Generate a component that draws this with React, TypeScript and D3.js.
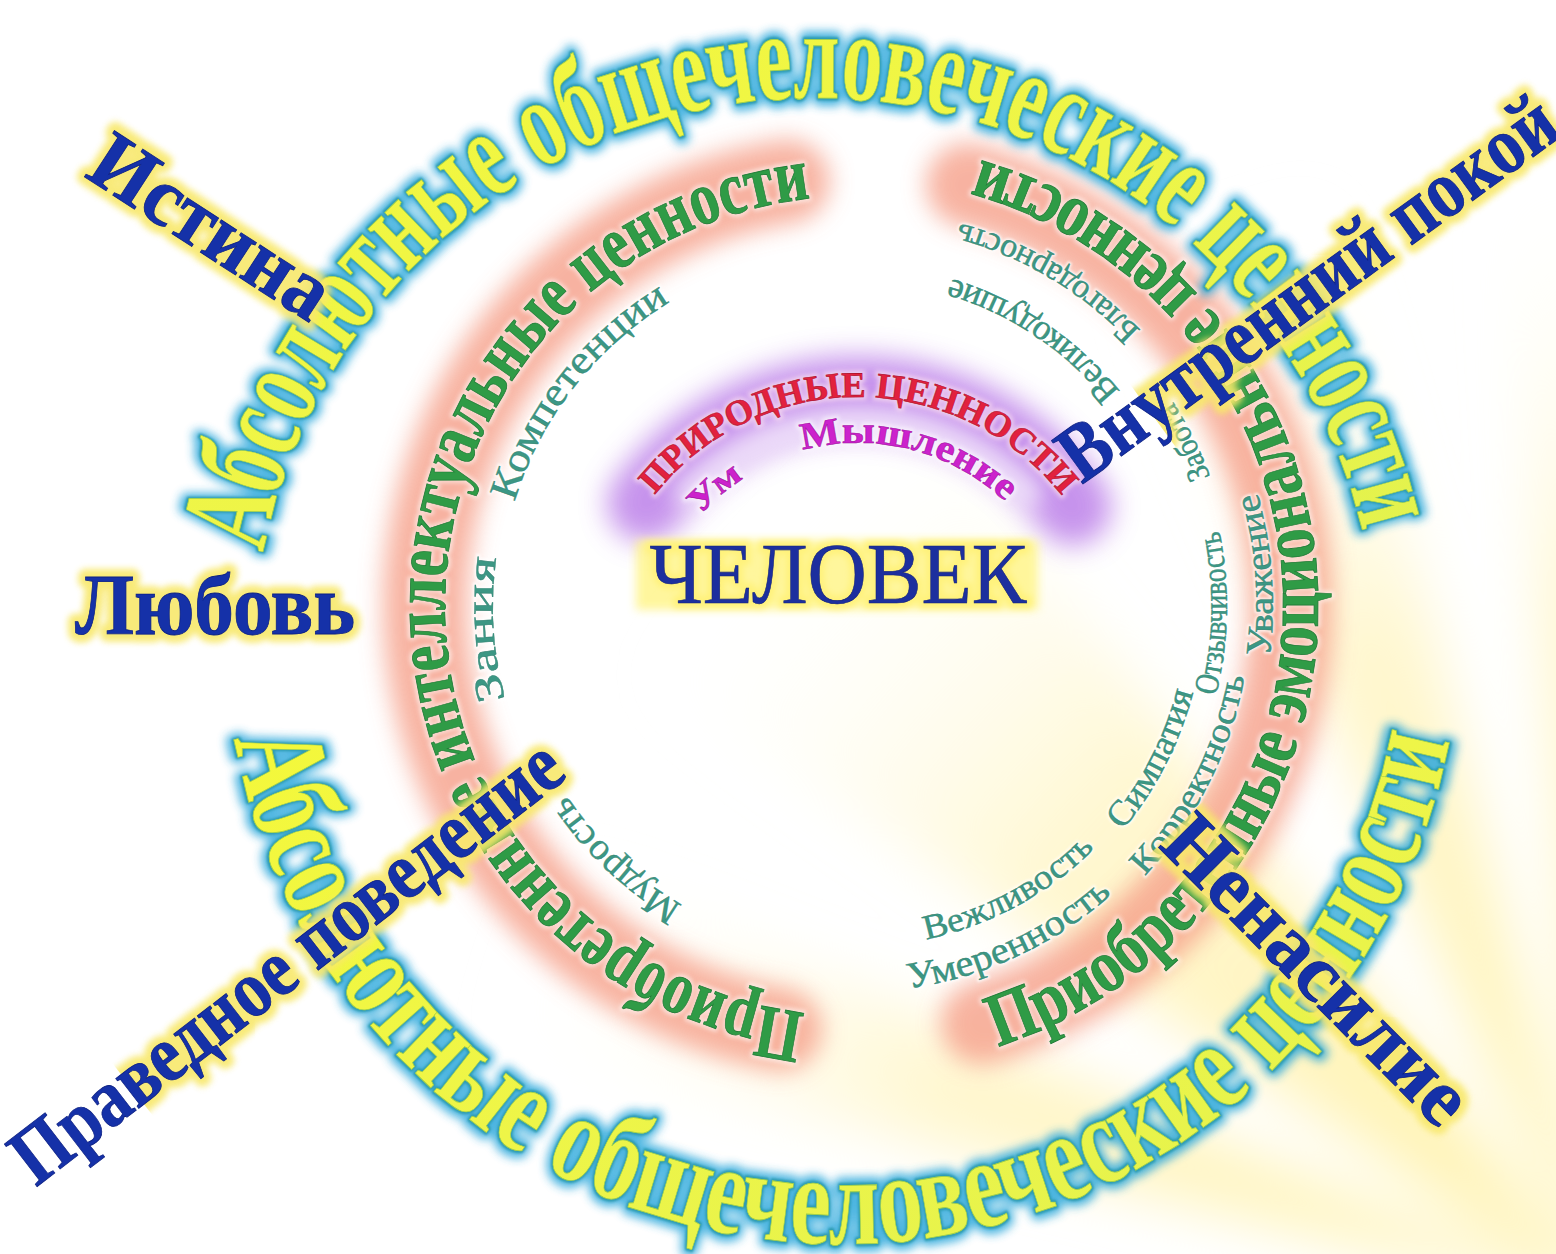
import React from 'react';
import * as d3 from 'd3';

// ---------------- data ----------------
const outerTitle = 'Абсолютные общечеловеческие ценности';
const acquiredTitles = ['Приобретенные интеллектуальные ценности', 'Приобретенные эмоциональные ценности'];
const naturalTitle = 'ПРИРОДНЫЕ ЦЕННОСТИ';
const naturalValues = ['Ум', 'Мышление'];
const intellectualValues = ['Компетенции', 'Зания', 'Мудрость'];
const emotionalValues = ['Благодарность', 'Великодушие', 'Забота', 'Отзывчивость', 'Уважение', 'Симпатия', 'Корректность', 'Вежливость', 'Умеренность'];
const absoluteValues = ['Истина', 'Внутренний покой', 'Любовь', 'Праведное поведение', 'Ненасилие'];
const centerLabel = 'ЧЕЛОВЕК';

// ---------------- layout ----------------
const W = 1556;
const H = 1254;
const SERIF = "'Liberation Serif', 'Times New Roman', serif";

type Arc = { cx: number; cy: number; r: number; a0: number; a1: number };

const outerArcs: Arc[] = [
  { cx: 815, cy: 660, r: 562, a0: 191, a1: 347 },
  { cx: 842, cy: 626, r: 618, a0: 169.5, a1: 10.5 },
];
const ringC = { cx: 855, cy: 606 };
const acquiredArcs: Arc[] = [
  { ...ringC, r: 410, a0: 97, a1: 264 },
  { ...ringC, r: 463, a0: 72, a1: -74.5 },
];
const bandArcs: Arc[] = [
  { ...ringC, r: 430, a0: 100, a1: 261 },
  { ...ringC, r: 436, a0: 73, a1: -75 },
];
const intellectualLayout = [
  { r: 356, a0: 197, a1: 239, size: 40 },
  { r: 362, a0: 165, a1: 188, size: 40 },
  { r: 345, a0: 120, a1: 147, size: 38 },
];
const emotionalLayout = [
  { r: 397, a0: -44, a1: -75, size: 34 },
  { r: 341, a0: -39, a1: -74, size: 36 },
  { r: 378, a0: -20, a1: -33, size: 32 },
  { r: 372, a0: 14, a1: -12, size: 34 },
  { r: 418, a0: 7, a1: -16, size: 36 },
  { r: 349, a0: 40, a1: 14, size: 36 },
  { r: 396, a0: 43, a1: 10, size: 35 },
  { r: 341, a0: 78, a1: 45, size: 35 },
  { r: 386, a0: 82, a1: 48, size: 37 },
];
const natC = { cx: 858, cy: 657 };
const naturalArc: Arc = { ...natC, r: 260, a0: 218.6, a1: 322 };
const naturalBand: Arc = { ...natC, r: 262, a0: 216, a1: 325 };
const naturalValueLayout = [
  { r: 212, a0: 222, a1: 238, size: 34 },
  { r: 214, a0: 255, a1: 314, size: 38 },
];
const absoluteLayout = [
  { x: 208, y: 232, rot: 33, size: 84, len: 270 },
  { x: 1311, y: 293, rot: -36, size: 82, len: 596 },
  { x: 215, y: 612, rot: 0, size: 86, len: 280 },
  { x: 290, y: 966, rot: -37.6, size: 82, len: 673 },
  { x: 1313, y: 974, rot: 45.2, size: 82, len: 400 },
];
const rayOrigin = { x: 1600, y: 1300 };
const rays = [
  [193, 203],
  [213, 233],
  [245, 256],
  [265, 272],
];

// ---------------- helpers ----------------
const toRad = (d: number) => (d * Math.PI) / 180;
function arcD(a: Arc) {
  const p = d3.path();
  p.arc(a.cx, a.cy, a.r, toRad(a.a0), toRad(a.a1), a.a1 < a.a0);
  return p.toString();
}
const arcLen = (a: Arc) => toRad(Math.abs(a.a1 - a.a0)) * a.r;

type Layer = Record<string, any>;

function CurvedText({ id, arc, text, size, weight = 'bold', layers }: { id: string; arc: Arc; text: string; size: number; weight?: string; layers: Layer[] }) {
  const len = arcLen(arc) - 2;
  return (
    <g>
      <path id={id} d={arcD(arc)} fill="none" stroke="none" />
      {layers.map((l, i) => (
        <text key={i} fontFamily={SERIF} fontSize={size} fontWeight={weight} {...l}>
          <textPath href={`#${id}`} textLength={len} lengthAdjust="spacingAndGlyphs">
            {text}
          </textPath>
        </text>
      ))}
    </g>
  );
}

const outerLayers: Layer[] = [
  { fill: '#2fa9dc', stroke: '#2fa9dc', strokeWidth: 16, strokeLinejoin: 'round', filter: 'url(#blur5)', opacity: 0.85 },
  { fill: 'none', stroke: '#2e9bb0', strokeWidth: 5, strokeLinejoin: 'round', filter: 'url(#blur1)' },
  { fill: 'url(#yellowGrad)', stroke: '#9fcf4a', strokeWidth: 0.8 },
];
const greenLayers: Layer[] = [
  { fill: 'none', stroke: '#ffffff', strokeWidth: 6, strokeLinejoin: 'round', opacity: 0.6, filter: 'url(#blur2)' },
  { fill: '#2f9b46', stroke: '#1f7a35', strokeWidth: 0.8 },
];
const tealLayers: Layer[] = [
  { fill: 'none', stroke: '#ffffff', strokeWidth: 4, opacity: 0.7, filter: 'url(#blur1)' },
  { fill: '#3c9784', stroke: '#2f7f6e', strokeWidth: 0.4 },
];
const redLayers: Layer[] = [
  { fill: 'none', stroke: '#fbe0f0', strokeWidth: 6, opacity: 0.7, filter: 'url(#blur2)' },
  { fill: '#e2213e', stroke: '#b0142e', strokeWidth: 0.6 },
];
const magentaLayers: Layer[] = [
  { fill: 'none', stroke: '#ffffff', strokeWidth: 5, opacity: 0.6, filter: 'url(#blur2)' },
  { fill: '#cc22cc', stroke: '#9a109a', strokeWidth: 0.5 },
];

export default function App() {
  return (
    <svg width={W} height={H} viewBox={`0 0 ${W} ${H}`} style={{ position: 'absolute', left: 0, top: 0, background: '#ffffff' }}>
      <defs>
        {[1, 2, 3, 5, 10, 12, 14, 28].map((s) => (
          <filter key={s} id={`blur${s}`} filterUnits="userSpaceOnUse" x={-200} y={-200} width={W + 400} height={H + 400}>
            <feGaussianBlur stdDeviation={s} />
          </filter>
        ))}
        <radialGradient id="rayGrad" gradientUnits="userSpaceOnUse" cx={rayOrigin.x} cy={rayOrigin.y} r={1150}>
          <stop offset="0" stopColor="#fff0a0" stopOpacity={0.95} />
          <stop offset="0.6" stopColor="#fff4bc" stopOpacity={0.7} />
          <stop offset="1" stopColor="#ffffff" stopOpacity={0} />
        </radialGradient>
        <linearGradient id="yellowGrad" x1="0" y1="0" x2="1" y2="1">
          <stop offset="0" stopColor="#f4f83a" />
          <stop offset="0.5" stopColor="#eef548" />
          <stop offset="1" stopColor="#e2f24e" />
        </linearGradient>
      </defs>

      {/* background light rays */}
      <g filter="url(#blur28)">
        {rays.map(([a0, a1], i) => {
          const L = 1500;
          const p0 = [rayOrigin.x + L * Math.cos(toRad(a0)), rayOrigin.y + L * Math.sin(toRad(a0))];
          const p1 = [rayOrigin.x + L * Math.cos(toRad(a1)), rayOrigin.y + L * Math.sin(toRad(a1))];
          return <polygon key={i} points={`${rayOrigin.x},${rayOrigin.y} ${p0[0]},${p0[1]} ${p1[0]},${p1[1]}`} fill="url(#rayGrad)" />;
        })}
      </g>

      {/* salmon bands */}
      {bandArcs.map((a, i) => (
        <path key={i} d={arcD(a)} fill="none" stroke="#f6a08a" strokeWidth={84} strokeLinecap="round" opacity={0.8} filter="url(#blur12)" />
      ))}

      {/* purple band */}
      <path d={arcD(naturalBand)} fill="none" stroke="#b46fe6" strokeWidth={78} strokeLinecap="round" opacity={0.75} filter="url(#blur14)" />
      <path d={arcD({ ...naturalBand, r: 236, a0: 224, a1: 316 })} fill="none" stroke="#ffffff" strokeWidth={30} strokeLinecap="round" opacity={0.6} filter="url(#blur10)" />

      {/* outer ring */}
      {outerArcs.map((a, i) => (
        <CurvedText key={i} id={`outer${i}`} arc={a} text={outerTitle} size={128} layers={outerLayers} />
      ))}

      {/* acquired values rings */}
      {acquiredArcs.map((a, i) => (
        <CurvedText key={i} id={`acq${i}`} arc={a} text={acquiredTitles[i]} size={76} layers={greenLayers} />
      ))}

      {/* intellectual values */}
      {intellectualValues.map((t, i) => {
        const l = intellectualLayout[i];
        return <CurvedText key={t} id={`int${i}`} arc={{ ...ringC, r: l.r, a0: l.a0, a1: l.a1 }} text={t} size={l.size} weight="normal" layers={tealLayers} />;
      })}

      {/* emotional values */}
      {emotionalValues.map((t, i) => {
        const l = emotionalLayout[i];
        return <CurvedText key={t} id={`emo${i}`} arc={{ ...ringC, r: l.r, a0: l.a0, a1: l.a1 }} text={t} size={l.size} weight="normal" layers={tealLayers} />;
      })}

      {/* natural values */}
      <CurvedText id="nat" arc={naturalArc} text={naturalTitle} size={36} layers={redLayers} />
      {naturalValues.map((t, i) => {
        const l = naturalValueLayout[i];
        return <CurvedText key={t} id={`natv${i}`} arc={{ ...natC, r: l.r, a0: l.a0, a1: l.a1 }} text={t} size={l.size} layers={magentaLayers} />;
      })}

      {/* center */}
      <rect x={636} y={540} width={402} height={70} fill="#fff58c" opacity={0.85} filter="url(#blur5)" />
      <text x={838} y={603} textAnchor="middle" fontFamily={SERIF} fontSize={86} textLength={377} lengthAdjust="spacingAndGlyphs" fill="none" stroke="#fff27a" strokeWidth={10} filter="url(#blur3)">
        {centerLabel}
      </text>
      <text x={838} y={603} textAnchor="middle" fontFamily={SERIF} fontSize={86} textLength={377} lengthAdjust="spacingAndGlyphs" fill="#1c2f9e" stroke="#14237a" strokeWidth={0.6}>
        {centerLabel}
      </text>

      {/* absolute values (blue words) */}
      {absoluteValues.map((t, i) => {
        const l = absoluteLayout[i];
        return (
          <g key={t} transform={`translate(${l.x},${l.y}) rotate(${l.rot})`}>
            <text textAnchor="middle" dy="0.25em" fontFamily={SERIF} fontWeight="bold" fontSize={l.size} textLength={l.len} lengthAdjust="spacingAndGlyphs" fill="#f8ea6a" stroke="#f8e86c" strokeWidth={16} strokeLinejoin="round" opacity={0.9} filter="url(#blur3)">
              {t}
            </text>
            <text textAnchor="middle" dy="0.25em" fontFamily={SERIF} fontWeight="bold" fontSize={l.size} textLength={l.len} lengthAdjust="spacingAndGlyphs" fill="#1531a8" stroke="#0d2184" strokeWidth={0.8}>
              {t}
            </text>
          </g>
        );
      })}
    </svg>
  );
}
